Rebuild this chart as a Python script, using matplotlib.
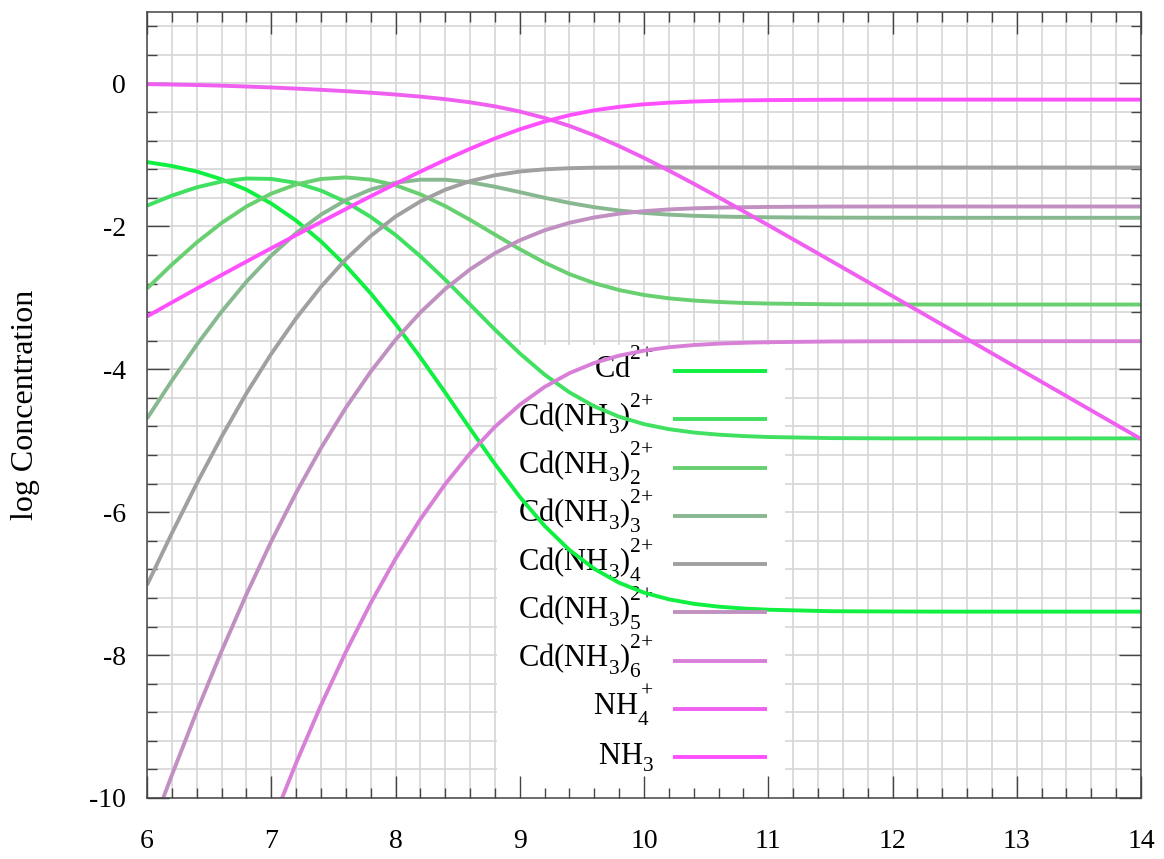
import matplotlib
matplotlib.use('Agg')
import matplotlib.pyplot as plt
import matplotlib._mathtext as mathtext_internals
from matplotlib.ticker import MultipleLocator, AutoMinorLocator
from matplotlib.patches import Rectangle

plt.rcParams['font.family'] = ['Liberation Serif', 'DejaVu Serif']
plt.rcParams['mathtext.fontset'] = 'custom'
plt.rcParams['mathtext.rm'] = 'Liberation Serif'
plt.rcParams['mathtext.it'] = 'Liberation Serif:italic'
plt.rcParams['axes.unicode_minus'] = False

# gnuplot puts superscripts higher and subscripts lower than mathtext does
mathtext_internals.FontConstantsBase.sup1 = 1.2
mathtext_internals.FontConstantsBase.sub1 = 0.5
mathtext_internals.FontConstantsBase.sub2 = 0.7

# pH values
ph = [6.0, 6.2, 6.4, 6.6, 6.8, 7.0, 7.2, 7.4, 7.6, 7.8, 8.0, 8.2, 8.4, 8.6, 8.8,
      9.0, 9.2, 9.4, 9.6, 9.8, 10.0, 10.2, 10.4, 10.6, 10.8, 11.0, 11.5, 12.0,
      12.5, 13.0, 13.5, 14.0]

# log concentrations for each species
cd = [-1.10, -1.155, -1.232, -1.341, -1.487, -1.680, -1.919, -2.210, -2.550, -2.937,
      -3.365, -3.834, -4.326, -4.830, -5.324, -5.785, -6.192, -6.529, -6.793, -6.988,
      -7.126, -7.219, -7.282, -7.322, -7.348, -7.365, -7.386, -7.390, -7.392, -7.392,
      -7.392, -7.392]
cd_nh3_1 = [-1.71, -1.57, -1.454, -1.372, -1.330, -1.336, -1.391, -1.499, -1.657, -1.867,
            -2.120, -2.418, -2.746, -3.094, -3.445, -3.777, -4.075, -4.323, -4.519, -4.664,
            -4.768, -4.838, -4.885, -4.915, -4.935, -4.948, -4.963, -4.967, -4.967, -4.967,
            -4.967, -4.967]
cd_nh3_2 = [-2.87, -2.535, -2.226, -1.953, -1.722, -1.542, -1.413, -1.337, -1.315, -1.346,
            -1.424, -1.552, -1.716, -1.909, -2.115, -2.319, -2.507, -2.668, -2.795, -2.891,
            -2.960, -3.007, -3.038, -3.058, -3.072, -3.080, -3.091, -3.093, -3.094, -3.094,
            -3.094, -3.094]
cd_nh3_3 = [-4.69, -4.16, -3.658, -3.194, -2.775, -2.408, -2.095, -1.836, -1.633, -1.485,
            -1.389, -1.347, -1.347, -1.383, -1.445, -1.521, -1.600, -1.672, -1.732, -1.778,
            -1.812, -1.836, -1.852, -1.862, -1.869, -1.873, -1.878, -1.879, -1.880, -1.880,
            -1.880, -1.880]
cd_nh3_4 = [-7.02, -6.295, -5.60, -4.945, -4.337, -3.784, -3.287, -2.845, -2.461, -2.135,
            -1.863, -1.651, -1.487, -1.367, -1.285, -1.233, -1.202, -1.186, -1.178, -1.175,
            -1.174, -1.174, -1.175, -1.175, -1.175, -1.175, -1.176, -1.176, -1.176, -1.176,
            -1.176, -1.176]
cd_nh3_5 = [-10.6, -9.68, -8.79, -7.946, -7.15, -6.41, -5.729, -5.104, -4.539, -4.034,
            -3.588, -3.205, -2.877, -2.602, -2.376, -2.195, -2.055, -1.950, -1.875, -1.822,
            -1.787, -1.763, -1.748, -1.738, -1.732, -1.728, -1.723, -1.722, -1.722, -1.722,
            -1.722, -1.722]
cd_nh3_6 = [-15.5, -14.4, -13.32, -12.29, -11.30, -10.376, -9.51, -8.702, -7.957, -7.273,
            -6.652, -6.099, -5.607, -5.176, -4.806, -4.497, -4.247, -4.054, -3.911, -3.809,
            -3.739, -3.692, -3.661, -3.641, -3.629, -3.621, -3.611, -3.608, -3.607, -3.607,
            -3.607, -3.607]
nh4 = [-0.01, -0.015, -0.022, -0.031, -0.043, -0.056, -0.072, -0.089, -0.108, -0.129,
       -0.155, -0.184, -0.220, -0.264, -0.320, -0.392, -0.483, -0.594, -0.726, -0.877,
       -1.042, -1.219, -1.403, -1.593, -1.787, -1.983, -2.478, -2.976, -3.476, -3.976,
       -4.476, -4.976]
nh3 = [-3.26, -3.065, -2.872, -2.681, -2.493, -2.306, -2.122, -1.939, -1.758, -1.579,
       -1.405, -1.234, -1.070, -0.914, -0.770, -0.642, -0.533, -0.444, -0.376, -0.327,
       -0.292, -0.269, -0.253, -0.243, -0.237, -0.233, -0.228, -0.226, -0.226, -0.226,
       -0.226, -0.226]

series = [cd, cd_nh3_1, cd_nh3_2, cd_nh3_3, cd_nh3_4, cd_nh3_5, cd_nh3_6, nh4, nh3]
labels = ['Cd$^{2{+}}$', 'Cd(NH$_3$)$^{2{+}}$', 'Cd(NH$_3$)$_2^{2{+}}$',
          'Cd(NH$_3$)$_3^{2{+}}$', 'Cd(NH$_3$)$_4^{2{+}}$', 'Cd(NH$_3$)$_5^{2{+}}$',
          'Cd(NH$_3$)$_6^{2{+}}$', 'NH$_4^+$', 'NH$_3$']
colors = ['#10f040', '#40e060', '#68d070', '#88b890', '#a0a0a0',
          '#c090c0', '#d880d8', '#f060f0', '#ff50ff']

W, H = 1164, 859
fig = plt.figure(figsize=(W / 100, H / 100), dpi=100)
L, R, T, B = 147, 1141, 12, 798
rect = [L / W, 1 - B / H, (R - L) / W, (B - T) / H]

def set_locators(a):
    a.set_xlim(6, 14)
    a.set_ylim(-10, 1)
    a.xaxis.set_major_locator(MultipleLocator(1))
    a.xaxis.set_minor_locator(AutoMinorLocator(5))
    a.yaxis.set_major_locator(MultipleLocator(2))
    a.yaxis.set_minor_locator(AutoMinorLocator(5))

# grid on a background axes so the key box can hide it
bg = fig.add_axes(rect)
set_locators(bg)
bg.grid(which='both', color='#d6d6d6', linewidth=1.2)
bg.tick_params(which='both', length=0, labelbottom=False, labelleft=False)
for s in bg.spines.values():
    s.set_visible(False)

ax = fig.add_axes(rect, facecolor='none')
set_locators(ax)

for y, c in zip(series, colors):
    ax.plot(ph, y, color=c, linewidth=2.8, zorder=2, solid_capstyle='butt')

for s in ax.spines.values():
    s.set_color('#444444')
    s.set_linewidth(1.1)
ax.tick_params(which='both', direction='in', top=True, right=True,
               color='#444444', width=1.0, labelsize=20)
ax.tick_params(which='major', length=15.5)
ax.tick_params(which='minor', length=7.5)
ax.tick_params(axis='x', pad=22)
ax.tick_params(axis='y', pad=15)

ax.set_ylabel('log Concentration', fontsize=23)
ax.yaxis.set_label_coords(-0.108, 0.5)

# key, gnuplot style: white box, labels right-aligned, samples on the right
def fx(px):
    return (px - L) / (R - L)

def fy(py):
    return (B - py) / (B - T)

ax.add_patch(Rectangle((fx(497), 0), fx(785) - fx(497), fy(345), transform=ax.transAxes,
                       facecolor='white', edgecolor='none', zorder=1))
for i, (lab, c) in enumerate(zip(labels, colors)):
    yr = 371 + i * 48.25
    ax.plot([fx(673), fx(767)], [fy(yr), fy(yr)], transform=ax.transAxes,
            color=c, linewidth=2.8, zorder=2, solid_capstyle='butt')
    ax.text(fx(654), fy(yr + 7), lab, transform=ax.transAxes, ha='right',
            va='baseline', fontsize=22, zorder=1.5)

fig.savefig('out.png', dpi=100)
